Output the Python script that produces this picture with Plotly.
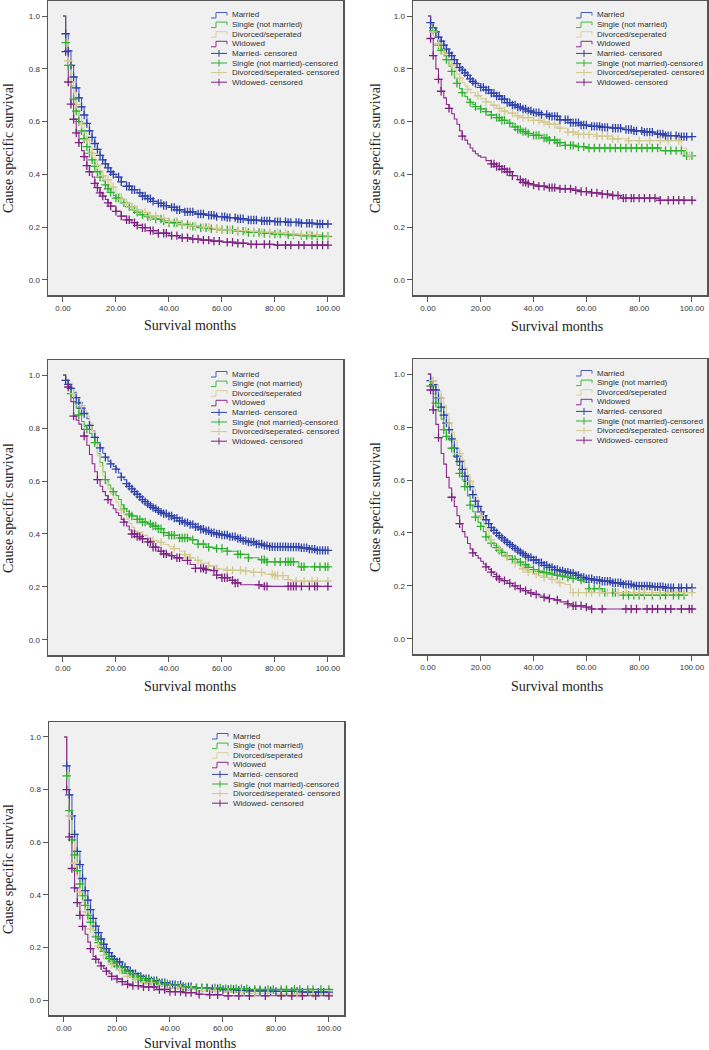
import numpy as np
import plotly.graph_objects as go

# ---------------- data (months, cause specific survival) ----------------
GROUPS = ["Married", "Single (not married)", "Divorced/seperated", "Widowed"]
CENSOR_LABELS = ["Married- censored", "Single (not married)-censored",
                 "Divorced/seperated- censored", "Widowed- censored"]
X_TICKS = [0, 20, 40, 60, 80, 100]
Y_TICKS = [0.0, 0.2, 0.4, 0.6, 0.8, 1.0]
X_TITLE = "Survival months"
Y_TITLE = "Cause specific survival"

# Panel 1
p1_mar_t = [0,1,2,3,4,5,6,7,8,9,10,11,12,13,14,15,16,17,18,19,20,22,24,26,28,30,32,34,36,38,40,43,46,50,54,58,62,66,70,75,80,85,90,95]
p1_mar_s = [1,0.933,0.868,0.813,0.769,0.728,0.69,0.656,0.625,0.593,0.565,0.54,0.517,0.495,0.472,0.455,0.44,0.425,0.41,0.4,0.39,0.372,0.355,0.342,0.33,0.318,0.308,0.298,0.29,0.282,0.275,0.266,0.258,0.25,0.245,0.24,0.236,0.232,0.227,0.224,0.221,0.218,0.215,0.212]
p1_mar_c = [1,2,3,4,5,6,7,8,9,10,11,12,13,14,15,16,17,18,19,21,22,24,25,26,27,29,30,31,32,33,34,36,37,38,39,41,42,43,44,46,47,48,49,51,52,53,55,56,57,58,60,61,62,63,65,66,67,68,70,71,72,73,75,76,77,78,80,81,82,84,85,86,88,89,90,92,93,94,96,97,98,100]
p1_sin_t = [0,1,2,3,4,5,6,7,8,9,10,11,12,13,14,15,16,17,18,19,20,22,24,26,28,30,32,35,38,40,44,48,52,56,60,65,70,75,80,85,90,95]
p1_sin_s = [1,0.899,0.813,0.735,0.685,0.64,0.60,0.565,0.535,0.505,0.48,0.455,0.43,0.41,0.39,0.375,0.36,0.345,0.332,0.32,0.31,0.292,0.278,0.266,0.256,0.247,0.24,0.231,0.223,0.217,0.21,0.203,0.198,0.194,0.19,0.185,0.18,0.177,0.174,0.171,0.168,0.165]
p1_sin_c = [1,2,4,5,6,7,8,9,10,11,12,13,14,16,17,18,20,21,23,25,27,28,30,32,33,35,37,38,40,42,43,45,47,49,50,52,54,56,58,60,62,64,66,68,70,72,74,76,78,80,82,85,87,90,92,94,96,98,100]
p1_div_t = [0,1,2,3,4,5,6,7,8,9,10,11,12,13,14,15,16,18,20,22,24,26,28,30,33,36,40,44,48,52,56,60,65,70,75,80,85,90,98]
p1_div_s = [1,0.91,0.83,0.75,0.71,0.665,0.625,0.59,0.56,0.53,0.505,0.48,0.455,0.435,0.415,0.395,0.38,0.352,0.327,0.306,0.29,0.277,0.266,0.256,0.243,0.233,0.222,0.213,0.205,0.2,0.195,0.19,0.187,0.184,0.181,0.178,0.175,0.172,0.162]
p1_div_c = [2,3,5,7,9,11,13,15,17,19,22,24,26,28,31,33,35,38,40,43,45,48,50,53,55,58,60,63,66,69,72,75,78,81,84,87,90,93,96,100]
p1_wid_t = [0,1,2,3,4,5,6,7,8,9,10,11,12,13,14,15,16,17,18,20,22,24,26,28,30,33,36,40,44,48,52,56,60,65,70,80]
p1_wid_s = [1,0.865,0.75,0.666,0.609,0.557,0.52,0.49,0.467,0.433,0.41,0.39,0.366,0.35,0.33,0.318,0.305,0.292,0.28,0.26,0.242,0.228,0.217,0.207,0.198,0.187,0.177,0.168,0.16,0.155,0.151,0.147,0.143,0.139,0.135,0.132]
p1_wid_c = [1,2,3,4,5,6,8,9,10,12,13,14,15,17,18,20,22,24,25,27,28,30,31,33,34,36,38,39,41,43,45,47,49,51,53,55,57,59,62,64,66,68,71,73,76,78,81,84,86,89,91,94,96,98,100]

# Panel 2
p2_mar_t = [0,1,2,3,4,5,6,7,8,9,10,11,12,13,14,15,16,17,18,19,20,22,24,26,28,30,32,34,36,38,40,43,46,50,54,58,62,66,70,74,78,82,86,90,95]
p2_mar_s = [1,0.975,0.955,0.94,0.92,0.905,0.89,0.875,0.86,0.85,0.835,0.82,0.805,0.795,0.785,0.775,0.762,0.752,0.745,0.737,0.73,0.72,0.708,0.697,0.685,0.672,0.663,0.655,0.648,0.64,0.634,0.627,0.62,0.607,0.596,0.587,0.582,0.578,0.575,0.57,0.565,0.56,0.553,0.547,0.543]
p2_mar_c = [1,2,3,4,5,6,7,8,9,10,11,12,13,14,15,16,17,18,20,21,22,23,24,25,26,27,28,29,30,31,32,33,34,35,36,37,38,39,40,41,42,43,45,46,47,48,49,50,52,53,54,55,56,57,58,59,60,62,63,64,65,66,67,68,70,71,72,73,75,76,77,78,79,81,82,83,84,85,87,88,89,90,91,92,94,95,96,97,98,100]
p2_sin_t = [0,1,2,3,4,5,6,7,8,9,10,11,12,13,14,15,16,17,18,20,22,24,26,28,30,32,34,36,38,40,43,46,49,52,56,60,88,97]
p2_sin_s = [1,0.97,0.945,0.92,0.89,0.87,0.85,0.835,0.81,0.79,0.765,0.745,0.725,0.71,0.695,0.683,0.673,0.665,0.657,0.648,0.638,0.625,0.615,0.605,0.594,0.58,0.57,0.562,0.555,0.548,0.538,0.53,0.52,0.51,0.505,0.50,0.49,0.47]
p2_sin_c = [2,4,5,7,9,11,13,16,18,20,22,24,26,27,28,29,31,33,34,35,36,37,38,40,41,42,44,45,46,48,49,50,52,54,55,57,59,61,63,65,67,69,71,73,75,77,79,81,83,85,87,90,92,94,96,98,100]
p2_div_t = [0,1,2,3,4,5,6,7,8,9,10,11,12,13,14,15,16,18,20,22,24,26,28,30,33,36,40,43,46,49,53,56,64,70,76,96,98]
p2_div_s = [1,0.97,0.94,0.92,0.895,0.875,0.86,0.845,0.83,0.815,0.795,0.78,0.765,0.748,0.735,0.722,0.71,0.698,0.686,0.675,0.662,0.65,0.64,0.632,0.622,0.615,0.605,0.598,0.59,0.575,0.56,0.552,0.545,0.535,0.528,0.50,0.47]
p2_div_c = [2,4,6,9,12,15,19,22,25,27,29,32,34,36,38,40,42,44,46,48,50,53,55,57,59,61,64,66,68,70,72,76,80,84,88,91,95,99]
p2_wid_t = [0,1,2,3,4,5,6,7,8,9,10,11,12,13,14,15,16,17,18,19,20,22,24,26,28,30,32,34,36,38,40,42,45,50,55,58,62,66,70,73,88]
p2_wid_s = [1,0.915,0.85,0.80,0.76,0.715,0.69,0.665,0.65,0.63,0.61,0.59,0.565,0.545,0.53,0.515,0.50,0.488,0.478,0.47,0.465,0.452,0.44,0.43,0.42,0.41,0.395,0.38,0.37,0.365,0.36,0.355,0.35,0.345,0.34,0.335,0.33,0.325,0.32,0.31,0.302]
p2_wid_c = [1,2,4,5,8,13,24,25,26,27,28,29,30,31,32,35,36,37,38,40,42,44,46,47,48,50,52,54,56,58,60,62,64,66,68,70,72,74,75,77,78,80,82,84,86,88,91,93,95,97,100]

# Panel 3
p3_mar_t = [0,1,2,3,4,5,6,7,8,9,10,11,12,13,14,15,16,17,18,19,20,21,22,23,24,25,26,27,28,29,30,31,32,33,34,35,36,37,38,40,42,44,46,48,50,52,54,56,58,60,63,66,68,70,73,76,78,85,90,93,96]
p3_mar_s = [1,0.98,0.965,0.95,0.935,0.915,0.895,0.875,0.855,0.835,0.81,0.79,0.765,0.745,0.725,0.705,0.69,0.675,0.665,0.655,0.645,0.63,0.615,0.605,0.59,0.58,0.57,0.56,0.55,0.54,0.53,0.522,0.514,0.507,0.5,0.495,0.488,0.482,0.477,0.468,0.46,0.45,0.443,0.436,0.427,0.418,0.412,0.405,0.4,0.396,0.39,0.383,0.375,0.37,0.362,0.356,0.352,0.351,0.348,0.343,0.338]
p3_mar_c = [1,2,3,5,6,7,8,10,12,14,16,18,20,22,24,25,26,27,28,29,30,31,32,33,34,35,36,37,38,39,40,41,42,43,44,45,46,47,48,49,50,51,52,53,54,55,56,57,58,59,60,61,62,63,64,65,66,67,68,69,70,71,72,73,74,75,76,77,78,79,80,81,82,83,84,85,86,87,88,89,90,91,92,93,94,95,96,97,98,99,100]
p3_sin_t = [0,1,2,3,4,5,6,7,8,9,10,11,12,13,14,15,16,17,18,19,20,21,22,23,24,25,26,28,30,32,34,36,38,40,44,48,51,54,58,62,66,70,74,77,89]
p3_sin_s = [1,0.98,0.96,0.93,0.9,0.875,0.85,0.825,0.805,0.795,0.78,0.765,0.745,0.705,0.67,0.635,0.605,0.585,0.57,0.56,0.545,0.53,0.51,0.495,0.485,0.475,0.468,0.455,0.445,0.438,0.43,0.42,0.405,0.395,0.385,0.378,0.362,0.35,0.345,0.335,0.323,0.31,0.303,0.295,0.276]
p3_sin_c = [3,6,9,12,16,19,23,25,26,28,29,30,31,33,34,35,36,37,38,40,41,42,44,45,46,47,49,51,53,55,58,60,62,66,67,70,75,76,77,80,82,84,85,86,87,90,91,95,97,99,100]
p3_div_t = [0,1,2,3,4,5,6,7,8,9,10,11,12,13,14,15,16,17,18,19,20,21,22,23,24,25,26,27,28,30,32,34,36,38,40,42,44,46,48,50,52,55,58,62,68,72,76,80,85,86]
p3_div_s = [1,0.985,0.965,0.945,0.93,0.915,0.9,0.885,0.865,0.845,0.82,0.79,0.74,0.695,0.655,0.62,0.59,0.57,0.55,0.535,0.52,0.505,0.49,0.47,0.455,0.44,0.425,0.41,0.405,0.395,0.385,0.375,0.368,0.36,0.352,0.345,0.335,0.322,0.31,0.3,0.29,0.28,0.268,0.263,0.26,0.255,0.248,0.243,0.228,0.222]
p3_div_c = [4,7,22,27,30,34,37,42,46,48,51,55,58,62,64,67,69,72,75,79,80,81,83,85,88,91,94,96,100]
p3_wid_t = [0,1,2,3,4,5,6,7,8,9,10,11,12,13,14,15,16,17,18,19,20,21,22,23,24,25,26,28,30,32,34,36,38,40,42,45,48,50,54,56,58,60,63,65,67,75]
p3_wid_s = [1,0.98,0.955,0.9,0.845,0.83,0.815,0.795,0.77,0.735,0.7,0.665,0.635,0.605,0.58,0.56,0.545,0.53,0.51,0.495,0.48,0.47,0.455,0.445,0.43,0.415,0.4,0.39,0.382,0.37,0.35,0.335,0.325,0.318,0.31,0.3,0.285,0.27,0.265,0.262,0.245,0.235,0.225,0.215,0.208,0.202]
p3_wid_c = [2,4,8,13,17,23,26,27,28,29,30,32,33,34,35,37,38,39,41,43,44,47,50,52,53,54,57,58,60,61,62,64,65,66,74,76,77,85,86,87,88,90,93,95,96,100]

# Panel 4
p4_mar_t = [0,1,2,3,4,5,6,7,8,9,10,11,12,13,14,15,16,17,18,19,20,21,22,23,24,25,26,27,28,29,30,31,32,33,34,35,36,37,38,40,42,44,46,48,50,52,54,56,58,60,63,66,70,74,78,85,90]
p4_mar_s = [1,0.975,0.96,0.94,0.91,0.875,0.845,0.815,0.79,0.755,0.72,0.69,0.67,0.64,0.615,0.595,0.575,0.545,0.52,0.5,0.48,0.465,0.45,0.435,0.42,0.41,0.4,0.39,0.382,0.373,0.365,0.357,0.35,0.342,0.335,0.328,0.322,0.315,0.308,0.298,0.288,0.278,0.27,0.262,0.257,0.252,0.248,0.24,0.232,0.227,0.222,0.218,0.212,0.206,0.2,0.197,0.193]
p4_mar_c = [1,2,3,4,5,6,7,8,9,10,11,12,13,14,15,16,17,18,19,20,21,22,23,24,25,26,27,28,29,30,31,32,33,34,35,36,37,38,39,40,41,42,43,44,45,46,47,48,49,50,51,52,53,54,55,56,57,58,59,60,61,62,63,64,65,66,67,68,69,70,71,72,73,74,75,76,77,78,79,80,81,82,83,84,85,86,87,88,89,90,91,92,93,95,96,98,100]
p4_sin_t = [0,1,2,3,4,5,6,7,8,9,10,11,12,13,14,15,16,17,18,19,20,21,22,23,24,25,26,27,28,29,30,32,34,36,38,40,42,44,46,48,50,52,54,57,59,61,66,67,74]
p4_sin_s = [1,0.955,0.925,0.89,0.86,0.83,0.79,0.765,0.75,0.72,0.685,0.655,0.625,0.6,0.575,0.54,0.505,0.48,0.46,0.44,0.425,0.405,0.385,0.375,0.362,0.352,0.345,0.335,0.327,0.32,0.313,0.3,0.29,0.28,0.27,0.262,0.255,0.25,0.245,0.24,0.237,0.233,0.228,0.222,0.214,0.19,0.18,0.175,0.165]
p4_sin_c = [1,3,6,7,9,12,14,16,18,20,22,24,26,27,28,30,32,33,35,37,38,40,42,44,45,47,49,51,53,55,58,61,63,65,67,70,71,74,76,78,80,82,85,88,90,93,95,97]
p4_div_t = [0,1,2,3,4,5,6,7,8,9,10,11,12,13,14,15,16,17,18,19,20,21,22,23,24,25,26,27,28,29,30,31,32,33,34,35,36,37,38,40,42,44,46,48,50,52,54]
p4_div_s = [1,0.985,0.975,0.96,0.935,0.91,0.88,0.85,0.815,0.78,0.75,0.72,0.7,0.675,0.645,0.62,0.595,0.565,0.535,0.5,0.465,0.435,0.41,0.39,0.375,0.36,0.35,0.34,0.33,0.32,0.31,0.3,0.292,0.285,0.278,0.272,0.265,0.258,0.252,0.245,0.238,0.232,0.225,0.218,0.212,0.205,0.175]
p4_div_c = [2,5,8,12,16,20,24,27,30,33,36,38,41,44,47,50,55,57,60,62,65,68,72,75,78,80,82,85,88,91,94,97,100]
p4_wid_t = [0,1,2,3,4,5,6,7,8,9,10,11,12,13,14,15,16,17,18,19,20,21,22,23,24,25,26,27,28,30,32,34,36,38,40,42,44,46,48,50,53,55,60,62]
p4_wid_s = [1,0.94,0.865,0.81,0.76,0.7,0.66,0.61,0.57,0.535,0.5,0.465,0.435,0.405,0.385,0.36,0.34,0.325,0.315,0.305,0.293,0.283,0.272,0.262,0.252,0.243,0.235,0.227,0.22,0.21,0.2,0.19,0.182,0.174,0.168,0.162,0.157,0.152,0.147,0.14,0.132,0.125,0.12,0.113]
p4_wid_c = [1,2,4,9,12,17,22,24,26,27,29,31,33,35,37,39,41,44,46,49,53,55,56,58,60,62,66,75,77,79,83,85,87,90,92,96,99,100]

# Panel 5
p5_mar_t = [0,1,2,3,4,5,6,7,8,9,10,11,12,13,14,15,16,17,18,19,20,22,24,26,28,30,33,36,40,45,50,55,60,65,70,80,90]
p5_mar_s = [1,0.89,0.78,0.70,0.63,0.565,0.515,0.462,0.416,0.38,0.344,0.31,0.281,0.256,0.232,0.212,0.195,0.18,0.166,0.155,0.145,0.126,0.111,0.1,0.09,0.081,0.073,0.066,0.058,0.051,0.046,0.043,0.04,0.037,0.035,0.033,0.03]
p5_mar_c = [1,2,3,4,5,6,7,8,9,10,11,12,13,14,15,16,17,18,19,20,21,22,23,24,25,26,27,28,29,30,31,32,33,34,35,36,37,38,40,41,42,44,45,47,48,50,52,54,56,58,60,62,64,66,68,70,72,74,76,78,80,82,84,86,88,90,92,94,96,98,100]
p5_sin_t = [0,1,2,3,4,5,6,7,8,9,10,11,12,13,14,15,16,17,18,19,20,22,24,26,28,30,33,36,40,45,50,60,70]
p5_sin_s = [1,0.852,0.72,0.609,0.552,0.492,0.441,0.397,0.36,0.322,0.295,0.265,0.24,0.218,0.2,0.185,0.17,0.158,0.148,0.139,0.13,0.115,0.101,0.09,0.082,0.075,0.068,0.062,0.056,0.05,0.046,0.043,0.04]
p5_sin_c = [1,2,3,4,5,6,7,8,9,10,12,13,14,15,16,17,18,19,20,22,23,24,25,26,27,28,29,30,31,32,33,34,35,36,38,39,40,42,43,45,46,48,50,52,54,57,59,61,63,65,67,69,72,74,77,79,82,84,87,89,92,94,97,100]
p5_div_t = [0,1,2,3,4,5,6,7,8,9,10,11,12,13,14,15,16,17,18,19,20,22,24,26,28,30,35,40,45,50,60,70,80]
p5_div_s = [1,0.865,0.70,0.60,0.52,0.46,0.41,0.37,0.335,0.30,0.27,0.245,0.225,0.205,0.185,0.17,0.155,0.145,0.135,0.125,0.115,0.1,0.09,0.08,0.072,0.065,0.055,0.045,0.04,0.035,0.03,0.025,0.022]
p5_div_c = [2,4,6,8,10,13,15,18,21,24,27,30,33,36,40,44,48,52,57,62,67,72,77,82,88,94,100]
p5_wid_t = [0,1,2,3,4,5,6,7,8,9,10,11,12,13,14,15,16,17,18,20,22,24,26,30,35,40,45,50,55,60]
p5_wid_s = [1,0.80,0.62,0.50,0.426,0.37,0.322,0.28,0.25,0.22,0.195,0.165,0.155,0.141,0.13,0.12,0.11,0.1,0.09,0.08,0.07,0.06,0.055,0.05,0.04,0.032,0.028,0.022,0.02,0.016]
p5_wid_c = [1,2,3,4,5,6,7,10,12,14,16,18,20,22,24,26,28,30,32,34,36,38,40,42,44,46,48,51,55,58,62,66,70,76,82,86,90,95,100]

PANELS = [
    [(p1_mar_t, p1_mar_s, p1_mar_c), (p1_sin_t, p1_sin_s, p1_sin_c), (p1_div_t, p1_div_s, p1_div_c), (p1_wid_t, p1_wid_s, p1_wid_c)],
    [(p2_mar_t, p2_mar_s, p2_mar_c), (p2_sin_t, p2_sin_s, p2_sin_c), (p2_div_t, p2_div_s, p2_div_c), (p2_wid_t, p2_wid_s, p2_wid_c)],
    [(p3_mar_t, p3_mar_s, p3_mar_c), (p3_sin_t, p3_sin_s, p3_sin_c), (p3_div_t, p3_div_s, p3_div_c), (p3_wid_t, p3_wid_s, p3_wid_c)],
    [(p4_mar_t, p4_mar_s, p4_mar_c), (p4_sin_t, p4_sin_s, p4_sin_c), (p4_div_t, p4_div_s, p4_div_c), (p4_wid_t, p4_wid_s, p4_wid_c)],
    [(p5_mar_t, p5_mar_s, p5_mar_c), (p5_sin_t, p5_sin_s, p5_sin_c), (p5_div_t, p5_div_s, p5_div_c), (p5_wid_t, p5_wid_s, p5_wid_c)],
]

# ---------------- styling / layout ----------------
W, H = 709, 1050
LINE_COLORS = ["#4a5cc0", "#3cba3c", "#d8d09c", "#8c2c8e"]
MARK_COLORS = ["#2f42a8", "#2faf2f", "#d2c98e", "#7e2282"]
# frame boxes in pixels: (left, top, right, bottom)
FRAMES = [(48, 1, 343, 295), (413, 1, 707, 295), (48, 360, 343, 655),
          (413, 359, 707, 654), (49, 722, 344, 1015)]
XTITLE_POS = [(190, 325), (557, 326), (190, 686), (557, 686), (190, 1043)]
YTITLE_POS = [(8, 148), (375, 148), (8, 508), (375, 507), (8, 869)]
XR = [-5.66, 105.7]
YR = [-0.057, 1.057]


def px(x):
    return x / W


def py(y):
    return 1 - y / H


def surv_at(times, vals, c):
    t = np.asarray(times, float)
    v = np.asarray(vals, float)
    idx = np.searchsorted(t, np.asarray(c, float), side="right") - 1
    return v[np.clip(idx, 0, len(v) - 1)]


fig = go.Figure()
layout = dict(width=W, height=H, margin=dict(l=0, r=0, t=0, b=0),
              paper_bgcolor="white", plot_bgcolor="#f0f0f0", showlegend=False,
              hovermode=False, annotations=[], shapes=[])

for p, curves in enumerate(PANELS):
    k = "" if p == 0 else str(p + 1)
    xa, ya = "x" + k, "y" + k
    l, t, r, b = FRAMES[p]
    axis_common = dict(showline=True, linecolor="#555555", linewidth=1.5, mirror=True,
                       showgrid=False, zeroline=False, ticks="outside", ticklen=5,
                       tickcolor="#555555", tickwidth=1,
                       tickfont=dict(family="Liberation Sans, Arial", size=8, color="#333333"))
    layout["xaxis" + k] = dict(domain=[px(l), px(r)], range=XR, tickvals=X_TICKS,
                               tickformat=".2f", anchor=ya, **axis_common)
    layout["yaxis" + k] = dict(domain=[py(b), py(t)], range=YR, tickvals=Y_TICKS,
                               tickformat=".1f", anchor=xa, **axis_common)

    # survival step lines
    for g, (tt, ss, cc) in enumerate(curves):
        x = list(tt)
        y = list(ss)
        end = max(cc)
        if end > x[-1]:
            x.append(end)
            y.append(y[-1])
        fig.add_trace(go.Scatter(x=x, y=y, mode="lines", line_shape="hv",
                                 line=dict(color=LINE_COLORS[g], width=1.1),
                                 name=GROUPS[g], xaxis=xa, yaxis=ya, hoverinfo="skip"))
    # censored marks
    for g, (tt, ss, cc) in enumerate(curves):
        fig.add_trace(go.Scatter(x=cc, y=surv_at(tt, ss, cc), mode="markers",
                                 marker=dict(symbol="cross-thin", size=6,
                                             line=dict(color=MARK_COLORS[g], width=1.3)),
                                 name=CENSOR_LABELS[g], xaxis=xa, yaxis=ya, hoverinfo="skip"))

    # legend (drawn inside the frame, top right)
    labels = GROUPS + CENSOR_LABELS
    colors = LINE_COLORS + MARK_COLORS
    for i, lab in enumerate(labels):
        ry = t + 14 + i * 9.6
        sx0, sx1 = l + 163, l + 179
        if i < 4:
            path = "M {:.5f},{:.5f} L {:.5f},{:.5f} L {:.5f},{:.5f} L {:.5f},{:.5f} L {:.5f},{:.5f}".format(
                px(sx0), py(ry + 3), px(sx0 + 5), py(ry + 3), px(sx0 + 5), py(ry - 2.5),
                px(sx1), py(ry - 2.5), px(sx1), py(ry + 0.5))
            layout["shapes"].append(dict(type="path", xref="paper", yref="paper", path=path,
                                         line=dict(color=colors[i], width=1)))
        else:
            layout["shapes"].append(dict(type="line", xref="paper", yref="paper",
                                         x0=px(sx0), x1=px(sx1), y0=py(ry), y1=py(ry),
                                         line=dict(color=colors[i], width=1)))
            layout["shapes"].append(dict(type="line", xref="paper", yref="paper",
                                         x0=px((sx0 + sx1) / 2), x1=px((sx0 + sx1) / 2),
                                         y0=py(ry - 3.5), y1=py(ry + 3.5),
                                         line=dict(color=colors[i], width=1)))
        layout["annotations"].append(dict(text=lab, xref="paper", yref="paper",
                                          x=px(l + 182), y=py(ry), xanchor="left", yanchor="middle",
                                          showarrow=False,
                                          font=dict(family="Liberation Sans, Arial", size=8, color="#333333")))

    # axis titles
    xt = XTITLE_POS[p]
    layout["annotations"].append(dict(text=X_TITLE, xref="paper", yref="paper",
                                      x=px(xt[0]), y=py(xt[1]), xanchor="center", yanchor="middle",
                                      showarrow=False,
                                      font=dict(family="Liberation Serif, Times New Roman", size=14, color="#222222")))
    yt = YTITLE_POS[p]
    layout["annotations"].append(dict(text=Y_TITLE, xref="paper", yref="paper", textangle=-90,
                                      x=px(yt[0]), y=py(yt[1]), xanchor="center", yanchor="middle",
                                      showarrow=False,
                                      font=dict(family="Liberation Serif, Times New Roman", size=14, color="#222222")))

fig.update_layout(**layout)
fig.write_html("out.html", config={"displayModeBar": False, "staticPlot": True},
               post_script="document.body.style.margin='0';document.body.style.overflow='hidden';")
